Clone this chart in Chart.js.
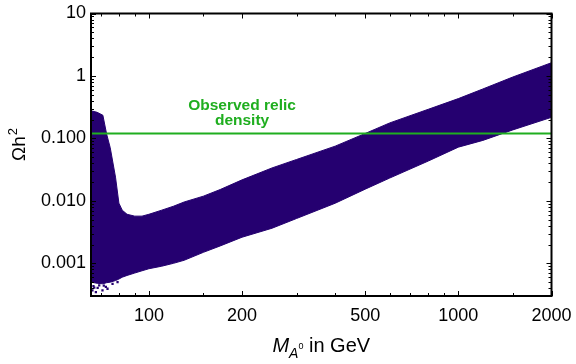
<!DOCTYPE html>
<html>
<head>
<meta charset="utf-8">
<script src="https://cdn.jsdelivr.net/npm/chart.js@4/dist/chart.umd.min.js"></script>
<style>
  html, body { margin: 0; padding: 0; background: #fff; }
  canvas { display: block; }
</style>
</head>
<body>
<canvas id="relic-chart" width="576" height="364"></canvas>
<script>
// Band of scan points: mass of A0 (GeV) vs upper / lower edge of Omega h^2
const massGeV = [65, 68, 71, 73, 75, 78, 80, 82, 85, 90, 95, 100, 110, 120, 130, 150, 170, 200, 250, 300, 400, 500, 600, 800, 1000, 1200, 1500, 2000];
const omegaUpper = [0.277, 0.262, 0.235, 0.118, 0.071, 0.024, 0.0092, 0.0071, 0.0061, 0.0057, 0.0057, 0.0061, 0.0071, 0.0082, 0.0096, 0.0119, 0.0152, 0.0217, 0.0337, 0.046, 0.0752, 0.12, 0.177, 0.293, 0.434, 0.619, 0.962, 1.63];
const omegaLower = [0.0005, 0.00048, 0.00047, 0.00049, 0.0005, 0.00053, 0.00056, 0.0006, 0.00064, 0.0007, 0.00076, 0.00082, 0.0009, 0.001, 0.00112, 0.0015, 0.0019, 0.00262, 0.00365, 0.00522, 0.00917, 0.0154, 0.0232, 0.0435, 0.0725, 0.0929, 0.137, 0.2175];

// Sparse points below the band at low mass
const sparseMass = [65.7, 66.2, 67.4, 68.3, 70.8, 71.5, 73.5, 69.1, 66.6, 72.6, 76.3, 79.2];
const sparseOmega = [0.000368, 0.00043, 0.000346, 0.000405, 0.000368, 0.00044, 0.000392, 0.000443, 0.00041, 0.00042, 0.00047, 0.0005];

const observedRelic = 0.12;

// Axis ticks
const xTickValues = [100, 200, 500, 1000, 2000];
const xTickLabels = ["100", "200", "500", "1000", "2000"];
const xMinorTicks = [70, 80, 90, 150, 300, 400, 600, 700, 800, 900, 1500];
const yTickValues = [0.001, 0.01, 0.1, 1, 10];
const yTickLabels = ["0.001", "0.010", "0.100", "1", "10"];
const yMinorTicks = [];
for (const d of [0.0001, 0.001, 0.01, 0.1, 1]) {
  for (let k = 2; k <= 9; k++) yMinorTicks.push(d * k);
}

const BAND = "#250070";
const GREEN = "#1fae1f";
const FONT = "'Liberation Sans', Arial, sans-serif";

const toPoints = (xs, ys) => xs.map((x, i) => ({ x, y: ys[i] }));

/**
 * Frame, inward ticks, axis titles and the green annotation
 */
const framePlugin = {
  id: "frame",
  afterDraw(chart) {
    const { ctx, chartArea: a } = chart;
    const xs = chart.scales.x;
    const ys = chart.scales.y;
    ctx.save();
    ctx.strokeStyle = "#000";
    ctx.lineWidth = 1;

    const seg = (x1, y1, x2, y2) => {
      ctx.beginPath();
      ctx.moveTo(x1, y1);
      ctx.lineTo(x2, y2);
      ctx.stroke();
    };
    const tickX = (v, len) => {
      if (v < xs.min || v > xs.max) return;
      const px = Math.round(xs.getPixelForValue(v)) + 0.5;
      seg(px, a.bottom, px, a.bottom - len);
      seg(px, a.top, px, a.top + len);
    };
    const tickY = (v, len) => {
      if (v < ys.min || v > ys.max) return;
      const py = Math.round(ys.getPixelForValue(v)) + 0.5;
      seg(a.left, py, a.left + len, py);
      seg(a.right, py, a.right - len, py);
    };
    xTickValues.forEach((v) => tickX(v, 5));
    xMinorTicks.forEach((v) => tickX(v, 3));
    yTickValues.forEach((v) => tickY(v, 5));
    yMinorTicks.forEach((v) => tickY(v, 3));

    ctx.lineWidth = 2;
    ctx.strokeRect(a.left, a.top, a.right - a.left, a.bottom - a.top);

    // green annotation above the line
    ctx.fillStyle = GREEN;
    ctx.font = `bold 15.5px ${FONT}`;
    ctx.textAlign = "center";
    ctx.textBaseline = "alphabetic";
    const lx = xs.getPixelForValue(200);
    const ly = ys.getPixelForValue(observedRelic);
    ctx.fillText("Observed relic", lx, ly - 23);
    ctx.fillText("density", lx, ly - 8);

    // x title: M_{A^0} in GeV
    ctx.fillStyle = "#000";
    ctx.textAlign = "left";
    const parts = [
      { t: "M", f: `italic 20px ${FONT}`, dy: 0 },
      { t: "A", f: `italic 14px ${FONT}`, dy: 6 },
      { t: "0", f: `9px ${FONT}`, dy: -3 },
      { t: " in GeV", f: `20px ${FONT}`, dy: 0 },
    ];
    let total = 0;
    for (const p of parts) {
      ctx.font = p.f;
      p.w = ctx.measureText(p.t).width;
      total += p.w;
    }
    let cx = (a.left + a.right) / 2 - total / 2;
    const base = 352;
    for (const p of parts) {
      ctx.font = p.f;
      ctx.fillText(p.t, cx, base + p.dy);
      cx += p.w;
    }

    // y title: Omega h^2
    ctx.translate(25, 145);
    ctx.rotate(-Math.PI / 2);
    ctx.font = `19px ${FONT}`;
    const w1 = ctx.measureText("\u03A9h").width;
    ctx.font = `13px ${FONT}`;
    const w2 = ctx.measureText("2").width;
    let sx = -(w1 + w2) / 2;
    ctx.font = `19px ${FONT}`;
    ctx.fillText("\u03A9h", sx, 0);
    ctx.font = `13px ${FONT}`;
    ctx.fillText("2", sx + w1 + 1, -8);
    ctx.restore();
  },
};

const ctx = document.getElementById("relic-chart");

new Chart(ctx, {
  type: "scatter",
  data: {
    datasets: [
      {
        label: "Observed relic density",
        data: [
          { x: 65, y: observedRelic },
          { x: 2000, y: observedRelic },
        ],
        showLine: true,
        borderColor: GREEN,
        borderWidth: 2,
        pointRadius: 0,
        fill: false,
      },
      {
        label: "upper",
        data: toPoints(massGeV, omegaUpper),
        showLine: true,
        borderColor: BAND,
        backgroundColor: BAND,
        borderWidth: 1,
        pointRadius: 0,
        tension: 0,
        fill: "+1",
      },
      {
        label: "lower",
        data: toPoints(massGeV, omegaLower),
        showLine: true,
        borderColor: BAND,
        borderWidth: 1,
        pointRadius: 0,
        tension: 0,
        fill: false,
      },
      {
        label: "sparse",
        data: toPoints(sparseMass, sparseOmega),
        pointStyle: "rect",
        pointRadius: 1.6,
        backgroundColor: BAND,
        borderWidth: 0,
      },
    ],
  },
  options: {
    responsive: false,
    animation: false,
    devicePixelRatio: 1,
    layout: {
      padding: { top: 13.5, right: 24.5, left: 0, bottom: 0 },
    },
    plugins: {
      legend: { display: false },
      tooltip: { enabled: false },
    },
    scales: {
      x: {
        type: "logarithmic",
        min: 65,
        max: 2000,
        grid: { display: false, drawTicks: false },
        border: { display: false },
        afterBuildTicks: (scale) => {
          scale.ticks = xTickValues.map((v) => ({ value: v }));
        },
        afterFit: (scale) => {
          scale.height = 68;
          scale.paddingLeft = 0;
          scale.paddingRight = 0;
        },
        ticks: {
          autoSkip: false,
          maxRotation: 0,
          padding: 9,
          color: "#000",
          font: { family: FONT, size: 18 },
          callback: (v, i) => xTickLabels[i],
        },
      },
      y: {
        type: "logarithmic",
        min: 0.0003,
        max: 10,
        grid: { display: false, drawTicks: false },
        border: { display: false },
        afterBuildTicks: (scale) => {
          scale.ticks = yTickValues.map((v) => ({ value: v }));
        },
        afterFit: (scale) => {
          scale.width = 91;
          scale.paddingTop = 0;
          scale.paddingBottom = 0;
        },
        ticks: {
          autoSkip: false,
          padding: 5,
          color: "#000",
          font: { family: FONT, size: 18 },
          callback: (v, i) => yTickLabels[i],
        },
      },
    },
  },
  plugins: [framePlugin],
});
</script>
</body>
</html>
